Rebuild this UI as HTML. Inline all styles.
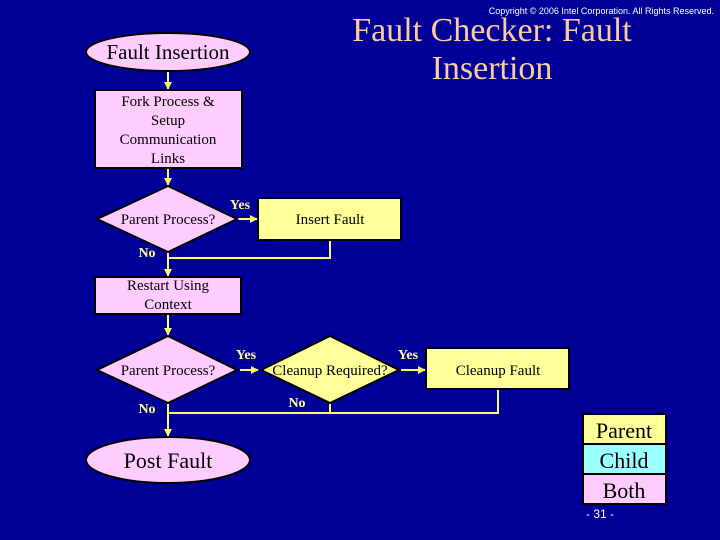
<!DOCTYPE html>
<html><head><meta charset="utf-8"><style>
html,body{margin:0;padding:0;background:#000099;}
svg{display:block}
text{font-family:"Liberation Serif",serif;}
</style></head><body>
<svg width="720" height="540" xmlns="http://www.w3.org/2000/svg">
<defs>
<marker id="a" viewBox="0 0 10 10" refX="9" refY="5" markerWidth="4" markerHeight="4" orient="auto"><path d="M0,0L10,5L0,10z" fill="#ffff66"/></marker>
</defs>
<rect width="720" height="540" fill="#000099"/>
<text x="714" y="14" text-anchor="end" font-size="9" fill="#fff" style="font-family:'Liberation Sans',sans-serif">Copyright © 2006 Intel Corporation. All Rights Reserved.</text>
<text x="492" y="41" text-anchor="middle" font-size="34" fill="#ffcc99">Fault Checker: Fault</text>
<text x="492" y="79" text-anchor="middle" font-size="34" fill="#ffcc99">Insertion</text>

<g stroke="#ffff66" stroke-width="2" fill="none">
<line x1="168" y1="71" x2="168" y2="89" marker-end="url(#a)"/>
<line x1="168" y1="168" x2="168" y2="185" marker-end="url(#a)"/>
<line x1="237" y1="219" x2="257" y2="219" marker-end="url(#a)"/>
<polyline points="330,240 330,258 168,258"/>
<line x1="168" y1="252" x2="168" y2="276" marker-end="url(#a)"/>
<line x1="168" y1="314" x2="168" y2="335" marker-end="url(#a)"/>
<line x1="240" y1="370" x2="258" y2="370" marker-end="url(#a)"/>
<line x1="401" y1="370" x2="425" y2="370" marker-end="url(#a)"/>
<polyline points="498,389 498,413 168,413"/>
<line x1="330" y1="403" x2="330" y2="413"/>
<line x1="168" y1="403" x2="168" y2="436" marker-end="url(#a)"/>
</g>

<g stroke="#000" stroke-width="2">
<ellipse cx="168" cy="52" rx="82" ry="19" fill="#ffccff"/>
<rect x="95" y="90" width="147" height="78" fill="#ffccff"/>
<polygon points="168,186 237,219 168,252 97,219" fill="#ffccff"/>
<rect x="258" y="198" width="143" height="42" fill="#ffff99"/>
<rect x="95" y="277" width="146" height="37" fill="#ffccff"/>
<polygon points="168,336 237,370 168,403 97,370" fill="#ffccff"/>
<polygon points="330,336 399,370 330,403 261,370" fill="#ffff99"/>
<rect x="426" y="348" width="143" height="41" fill="#ffff99"/>
<ellipse cx="168" cy="460" rx="82" ry="23" fill="#ffccff"/>
<rect x="583" y="414" width="83" height="30" fill="#ffff99"/>
<rect x="583" y="444" width="83" height="30" fill="#99ffff"/>
<rect x="583" y="474" width="83" height="30" fill="#ffccff"/>
</g>

<g fill="#000" text-anchor="middle">
<text x="168" y="59" font-size="21">Fault Insertion</text>
<text x="168" y="106" font-size="15">Fork Process &amp;</text>
<text x="168" y="125" font-size="15">Setup</text>
<text x="168" y="144" font-size="15">Communication</text>
<text x="168" y="163" font-size="15">Links</text>
<text x="168" y="224" font-size="15">Parent Process?</text>
<text x="330" y="224" font-size="15">Insert Fault</text>
<text x="168" y="290" font-size="15">Restart Using</text>
<text x="168" y="309" font-size="15">Context</text>
<text x="168" y="375" font-size="15">Parent Process?</text>
<text x="330" y="375" font-size="15">Cleanup Required?</text>
<text x="498" y="375" font-size="15">Cleanup Fault</text>
<text x="168" y="468" font-size="22">Post Fault</text>
<text x="624" y="438" font-size="22">Parent</text>
<text x="624" y="468" font-size="22">Child</text>
<text x="624" y="498" font-size="22">Both</text>
</g>
<g fill="#ffff99" font-size="14" font-weight="bold" text-anchor="middle">
<text x="240" y="209">Yes</text>
<text x="147" y="257">No</text>
<text x="246" y="359">Yes</text>
<text x="408" y="359">Yes</text>
<text x="297" y="407">No</text>
<text x="147" y="413">No</text>
</g>
<text x="600" y="518" text-anchor="middle" font-size="12" fill="#fff" style="font-family:'Liberation Sans',sans-serif">- 31 -</text>
</svg>
</body></html>
